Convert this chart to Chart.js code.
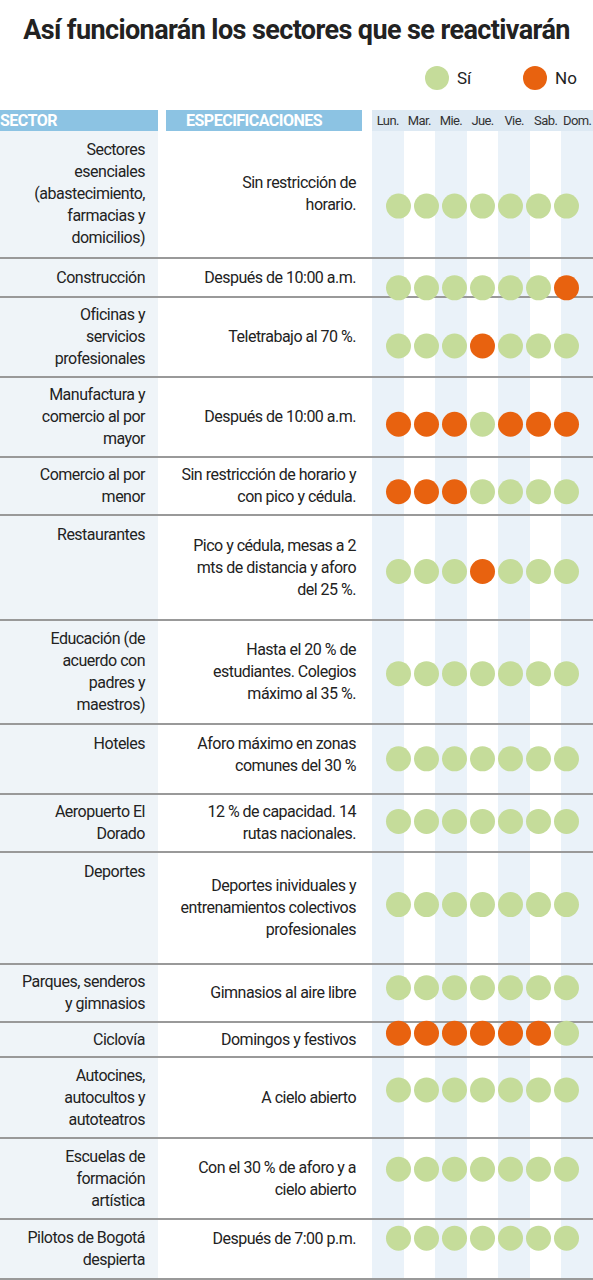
<!DOCTYPE html>
<html><head><meta charset="utf-8">
<script src="https://cdn.jsdelivr.net/npm/chart.js@4"></script>
<style>
body{margin:0;width:593px;height:1280px;overflow:hidden;background:#fff;font-family:"Roboto",sans-serif;color:#222;position:relative}
h1{position:absolute;left:0;top:14px;width:593px;margin:0;text-align:center;font-size:27px;font-weight:bold;color:#222;letter-spacing:-0.6px}
.leg{position:absolute;top:66px;font-size:17px;display:flex;align-items:center}
.leg i{display:inline-block;width:24px;height:24px;border-radius:50%;margin-right:8px}
.hd{position:absolute;top:110px;height:21px;background:#8cc3e3;color:#fff;font-weight:bold;font-size:16px;line-height:21px;letter-spacing:-0.5px}
.dayhd{position:absolute;top:110px;left:372px;width:221px;height:21px;background:#dde9f3;display:flex}
.dayhd span{flex:1;text-align:center;font-size:13px;line-height:21px;color:#333;letter-spacing:-0.6px}
.row{position:absolute;left:0;width:593px;border-bottom:2px solid #999;box-sizing:border-box}
.sec,.spec{position:absolute;top:0;bottom:0;text-align:right;font-size:16px;line-height:22px;letter-spacing:-0.5px;white-space:nowrap;display:flex;flex-direction:column;padding:8px 0;box-sizing:border-box}
.sec{left:0;width:158px;padding-right:13px;background:#eff4f8}
.spec{left:160px;width:196px}
.mid{justify-content:center}
.cols{position:absolute;left:372px;top:131px;width:221px;height:1149px;display:flex}
.cols div{flex:1}
.cols div:nth-child(odd){background:#eaf2f9}
#wrap{position:absolute;left:372px;top:131px;width:221px;height:1149px}
</style></head><body>
<h1>Así funcionarán los sectores que se reactivarán</h1>
<div class="leg" style="left:425px"><i style="background:#c5dc9a"></i>Sí</div>
<div class="leg" style="left:523px"><i style="background:#e8620f"></i>No</div>
<div class="hd" style="left:0;width:158px">SECTOR</div>
<div class="hd" style="left:166px;width:176px;padding-left:20px">ESPECIFICACIONES</div>
<div class="dayhd" id="dayhd"></div>
<div class="cols"><div></div><div></div><div></div><div></div><div></div><div></div><div></div></div>
<div id="rows"></div>
<div id="wrap"><canvas id="c"></canvas></div>
<script>
const days = ['Lun.', 'Mar.', 'Mie.', 'Jue.', 'Vie.', 'Sab.', 'Dom.'];
const sectors = ['Sectores<br>esenciales<br>(abastecimiento,<br>farmacias y<br>domicilios)', 'Construcción', 'Oficinas y<br>servicios<br>profesionales', 'Manufactura y<br>comercio al por<br>mayor', 'Comercio al por<br>menor', 'Restaurantes', 'Educación (de<br>acuerdo con<br>padres y<br>maestros)', 'Hoteles', 'Aeropuerto El<br>Dorado', 'Deportes', 'Parques, senderos<br>y gimnasios', 'Ciclovía', 'Autocines,<br>autocultos y<br>autoteatros', 'Escuelas de<br>formación<br>artística', 'Pilotos de Bogotá<br>despierta'];
const specs = ['Sin restricción de<br>horario.', 'Después de 10:00 a.m.', 'Teletrabajo al 70 %.', 'Después de 10:00 a.m.', 'Sin restricción de horario y<br>con pico y cédula.', 'Pico y cédula, mesas a 2<br>mts de distancia y aforo<br>del 25 %.', 'Hasta el 20 % de<br>estudiantes. Colegios<br>máximo al 35 %.', 'Aforo máximo en zonas<br>comunes del 30 %', '12 % de capacidad. 14<br>rutas nacionales.', 'Deportes inividuales y<br>entrenamientos colectivos<br>profesionales', 'Gimnasios al aire libre', 'Domingos y festivos', 'A cielo abierto', 'Con el 30 % de aforo y a<br>cielo abierto', 'Después de 7:00 p.m.'];
// S = sí, N = no, one letter per day
const status = ['SSSSSSS', 'SSSSSSN', 'SSSNSSS', 'NNNSNNN', 'NNNSSSS', 'SSSNSSS', 'SSSSSSS', 'SSSSSSS', 'SSSSSSS', 'SSSSSSS', 'SSSSSSS', 'NNNNNNS', 'SSSSSSS', 'SSSSSSS', 'SSSSSSS'];

// layout
const rowHeights = [128, 39, 80, 80, 58, 105, 104, 70, 58, 112, 58, 35, 81, 81, 60];
const secTop = [5, 7, 9];
const specTop = [7, 14];

document.getElementById('dayhd').innerHTML = days.map(d => '<span>' + d + '</span>').join('');
let html = '', y = 131;
const centers = [];
rowHeights.forEach((h, i) => {
    centers.push(y - 131 + h / 2);
    html += '<div class="row" style="top:' + y + 'px;height:' + h + 'px">' +
        '<div class="sec' + (secTop.includes(i) ? '' : ' mid') + '"><div>' + sectors[i] + '</div></div>' +
        '<div class="spec' + (specTop.includes(i) ? '' : ' mid') + '"><div>' + specs[i] + '</div></div></div>';
    y += h;
});
document.getElementById('rows').innerHTML = html;

const yes = [], no = [];
status.forEach((s, r) => {
    s.split('').forEach((v, d) => {
        (v === 'S' ? yes : no).push({x: d + 0.5, y: centers[r]});
    });
});

new Chart(document.getElementById('c'), {
    type: 'scatter',
    data: {
        datasets: [
            {label: 'Sí', data: yes, backgroundColor: '#c5dc9a', borderWidth: 0, pointRadius: 12.5},
            {label: 'No', data: no, backgroundColor: '#e8620f', borderWidth: 0, pointRadius: 12.5}
        ]
    },
    options: {
        responsive: true,
        maintainAspectRatio: false,
        animation: false,
        layout: {padding: 0},
        plugins: {legend: {display: false}, tooltip: {enabled: false}},
        scales: {
            x: {type: 'linear', min: 0, max: 7, display: false},
            y: {type: 'linear', min: 0, max: 1149, reverse: true, display: false}
        }
    }
});
</script>
</body></html>
